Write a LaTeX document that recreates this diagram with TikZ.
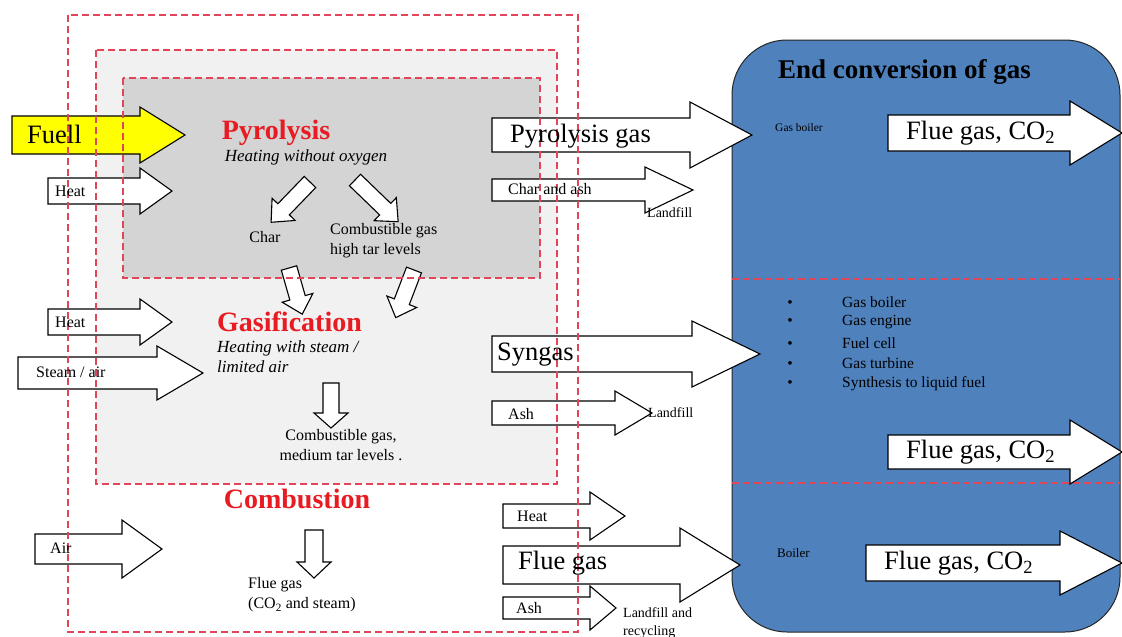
\documentclass[tikz,border=0pt]{standalone}
\usepackage{fontspec}
\setmainfont{Liberation Serif}
\definecolor{dashred}{RGB}{226,68,90}
\definecolor{titlered}{RGB}{232,26,34}
\definecolor{boxblue}{RGB}{79,129,189}
\definecolor{fuelyellow}{RGB}{255,255,0}
\definecolor{gasgray}{RGB}{241,241,241}
\definecolor{pyrogray}{RGB}{212,212,212}
\tikzset{
  pics/barrow/.style n args={4}{code={
    \path[blockarrow] (0,-#3) -- (#1-#2,-#3) -- (#1-#2,-#4) -- (#1,0)
      -- (#1-#2,#4) -- (#1-#2,#3) -- (0,#3) -- cycle;
  }}
}

\begin{document}
\begin{tikzpicture}[x=1pt, y=-1pt, every node/.style={inner sep=0pt, anchor=west},
  reddash/.style={draw=dashred, line width=1.4pt, dash pattern=on 7pt off 4pt},
  blockarrow/.style={draw=black, line width=1.1pt, fill=white, line join=miter},
  big/.style={font=\fontsize{26.5}{28}\selectfont},
  title/.style={font=\fontsize{28}{30}\selectfont\bfseries, text=titlered},
  note/.style={font=\fontsize{17}{20}\selectfont\itshape},
  small/.style={font=\fontsize{16}{20}\selectfont},
  tiny/.style={font=\fontsize{14}{18}\selectfont},
  item/.style={font=\fontsize{15.5}{18}\selectfont}]
\useasboundingbox (0,0) rectangle (1122,637);

\fill[gasgray] (96,50) rectangle (557,484);
\fill[pyrogray] (123,78) rectangle (540,278);
\draw[fill=boxblue, draw=black!85, line width=1pt, rounded corners=55pt] (732,40) rectangle (1120,632);
\draw[reddash] (732,279) -- (1120,279);
\draw[reddash] (732,483) -- (1120,483);

\pic[blockarrow/.append style={fill=fuelyellow}] at (12,135) {barrow={173}{45}{19}{28}};
\pic at (48,191) {barrow={124}{32}{13}{23}};
\pic at (48,322) {barrow={124}{32}{13}{23}};
\pic at (18,373) {barrow={185}{46}{16}{27}};
\pic at (35,549) {barrow={127}{40}{15}{29}};

\pic[rotate=-134] at (310,182) {barrow={56}{18}{8}{16}};
\pic[rotate=-44] at (355,180) {barrow={60}{18}{8}{16}};
\pic[rotate=-74] at (289,268) {barrow={48}{17}{8}{16}};
\pic[rotate=-111] at (414,270) {barrow={51}{17}{8}{16}};
\pic[rotate=-90] at (331,383) {barrow={45}{15}{8}{17}};
\pic[rotate=-90] at (314,530) {barrow={48}{16}{9}{17}};

\pic at (492,135) {barrow={260}{62}{17}{33}};
\pic at (492,190) {barrow={201}{48}{11}{23}};
\pic at (492,354) {barrow={268}{68}{18}{33}};
\pic at (492,413) {barrow={160}{37}{12}{22}};
\pic at (503,516) {barrow={122}{35}{12}{24}};
\pic at (503,565) {barrow={237}{60}{19}{37}};
\pic at (503,608) {barrow={113}{26}{11}{22}};

\pic at (888,133) {barrow={234}{52}{18}{32}};
\pic at (888,452) {barrow={234}{52}{17}{32}};
\pic at (866,563) {barrow={256}{62}{18}{32}};

\draw[reddash] (68,15) rectangle (578,632);
\draw[reddash] (96,50) rectangle (557,484);
\draw[reddash] (123,78) rectangle (540,278);

\node[big] (fuel) at (27,134) {Fuell};
\node[small] (heatpyro) at (55,191) {Heat};
\node[small] (heatgas) at (55,322) {Heat};
\node[small] (steam) at (36,372) {Steam / air};
\node[small] (air) at (50,548) {Air};

\node[title, anchor=center] (pyro) at (276,133) {Pyrolysis};
\node[note, anchor=center] (pyronote) at (306,157) {Heating without oxygen};
\node[small, anchor=center] (char) at (265,237) {Char};
\node[small, align=left] (gashigh) at (330,241) {Combustible gas\\high tar levels};
\node[title] (gasif) at (217,322) {Gasification};
\node[note, align=left] (gasifnote) at (217,357) {Heating with steam /\\limited air};
\node[small, align=center, anchor=center] (gasmed) at (341,445) {Combustible gas,\\medium tar levels .};
\node[title, anchor=center] (comb) at (297,499) {Combustion};
\node[small, align=left] (fluecomb) at (248,595) {Flue gas\\(CO\textsubscript{2} and steam)};

\node[big] (pyrogas) at (510,136) {Pyrolysis gas};
\node[small] (charash) at (508,189) {Char and ash};
\node[tiny] (landA) at (647,213) {Landfill};
\node[big] (syngas) at (497,355) {Syngas};
\node[small] (ashgas) at (508,414) {Ash};
\node[tiny] (landB) at (648,413) {Landfill};
\node[small] (heatcomb) at (517,516) {Heat};
\node[big] (fluegas) at (518,563) {Flue gas};
\node[small] (ashcomb) at (516,608) {Ash};
\node[tiny, align=left] (landC) at (623,623) {Landfill and\\recycling};

\node[font=\fontsize{27}{29}\selectfont\bfseries] (endconv) at (778,72) {End conversion of gas};
\node[font=\fontsize{11.5}{14}\selectfont] (gasboiler) at (775,128) {Gas boiler};
\node[big] (flueA) at (906,133) {Flue gas, CO\textsubscript{2}};
\node[item] (b1) at (842,302) {Gas boiler};
\node[item] (b2) at (842,322) {Gas engine};
\node[item] (b3) at (842,343) {Fuel cell};
\node[item] (b4) at (842,363) {Gas turbine};
\node[item] (b5) at (842,384) {Synthesis to liquid fuel};
\foreach \n in {b1,b2,b3,b4,b5}
  \node[item, anchor=base] at (790,0 |- \n.base) {\textbullet};
\node[big] (flueB) at (906,452) {Flue gas, CO\textsubscript{2}};
\node[font=\fontsize{13}{15}\selectfont] (boiler) at (777,553) {Boiler};
\node[big] (flueC) at (884,563) {Flue gas, CO\textsubscript{2}};
\end{tikzpicture}
\end{document}
